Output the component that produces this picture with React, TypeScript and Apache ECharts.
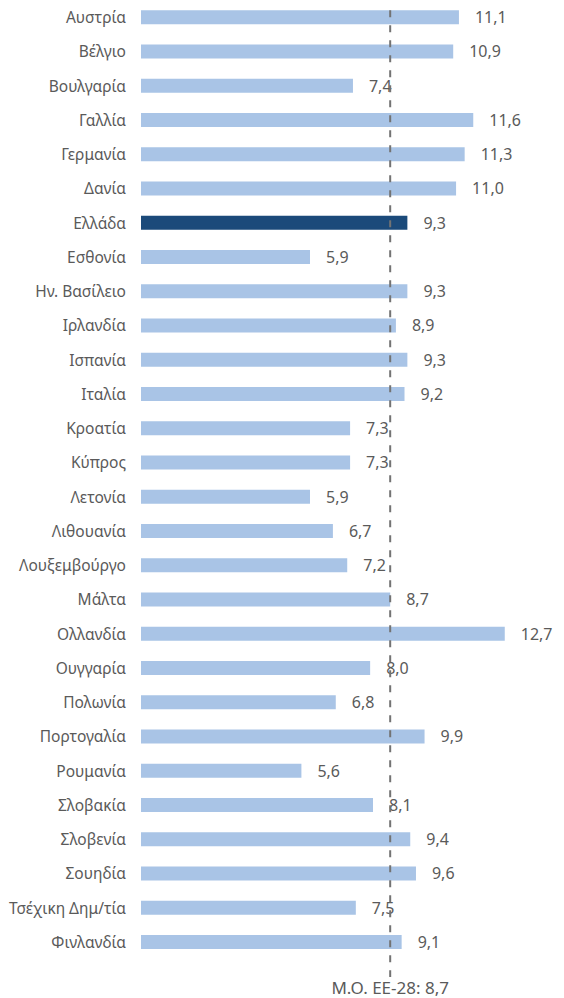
import React, { useEffect, useRef } from "react";
import * as echarts from "echarts";

const categories = [
  "Αυστρία", "Βέλγιο", "Βουλγαρία", "Γαλλία", "Γερμανία", "Δανία", "Ελλάδα",
  "Εσθονία", "Ην. Βασίλειο", "Ιρλανδία", "Ισπανία", "Ιταλία", "Κροατία", "Κύπρος",
  "Λετονία", "Λιθουανία", "Λουξεμβούργο", "Μάλτα", "Ολλανδία", "Ουγγαρία",
  "Πολωνία", "Πορτογαλία", "Ρουμανία", "Σλοβακία", "Σλοβενία", "Σουηδία",
  "Τσέχικη Δημ/τία", "Φινλανδία",
];
const values = [
  11.1, 10.9, 7.4, 11.6, 11.3, 11.0, 9.3,
  5.9, 9.3, 8.9, 9.3, 9.2, 7.3, 7.3,
  5.9, 6.7, 7.2, 8.7, 12.7, 8.0,
  6.8, 9.9, 5.6, 8.1, 9.4, 9.6,
  7.5, 9.1,
];
const highlight = "Ελλάδα";
const euAverage = 8.7;
const averageLabel = "Μ.Ο. ΕΕ-28: 8,7";

const fmt = (v: number) => v.toFixed(1).replace(".", ",");

export default function App() {
  const ref = useRef<HTMLDivElement>(null);
  useEffect(() => {
    document.body.style.margin = "0";
    if (!ref.current) return;
    const chart = echarts.init(ref.current, null, { renderer: "svg" });
    const font = "'Noto Sans', sans-serif";
    chart.setOption({
      animation: false,
      grid: { left: 141, right: 22, top: 0, height: 959 },
      xAxis: { type: "value", min: 0, max: 14, show: false },
      yAxis: {
        type: "category",
        data: categories,
        inverse: true,
        axisLine: { show: false },
        axisTick: { show: false },
        axisLabel: { color: "#5a5a5a", fontSize: 15.5, fontFamily: font, margin: 15 },
      },
      series: [
        {
          type: "bar",
          barWidth: 14,
          data: values.map((v, i) => ({
            value: v,
            itemStyle: { color: categories[i] === highlight ? "#1B4A7A" : "#A9C4E6" },
          })),
          label: {
            show: true,
            position: "right",
            distance: 16,
            color: "#5a5a5a",
            fontSize: 16,
            fontFamily: font,
            formatter: (p: any) => fmt(p.value),
          },
          z: 2,
        },
      ],
    });
    const x = chart.convertToPixel({ xAxisIndex: 0 }, euAverage) as number;
    const yFirst = chart.convertToPixel({ yAxisIndex: 0 }, 0) as number;
    const yLast = chart.convertToPixel({ yAxisIndex: 0 }, categories.length - 1) as number;
    chart.setOption({
      graphic: [
        {
          type: "line",
          z: 10,
          shape: { x1: x, y1: yFirst - 7, x2: x, y2: yLast + 35 },
          style: { stroke: "#737373", lineWidth: 2, lineDash: [7, 8] },
        },
        {
          type: "text",
          x: x,
          y: yLast + 46,
          style: {
            text: averageLabel,
            fill: "#5a5a5a",
            fontSize: 17,
            fontFamily: font,
            align: "center",
            verticalAlign: "middle",
          },
        },
      ],
    });
    return () => chart.dispose();
  }, []);
  return <div ref={ref} style={{ width: 564, height: 998 }} />;
}
